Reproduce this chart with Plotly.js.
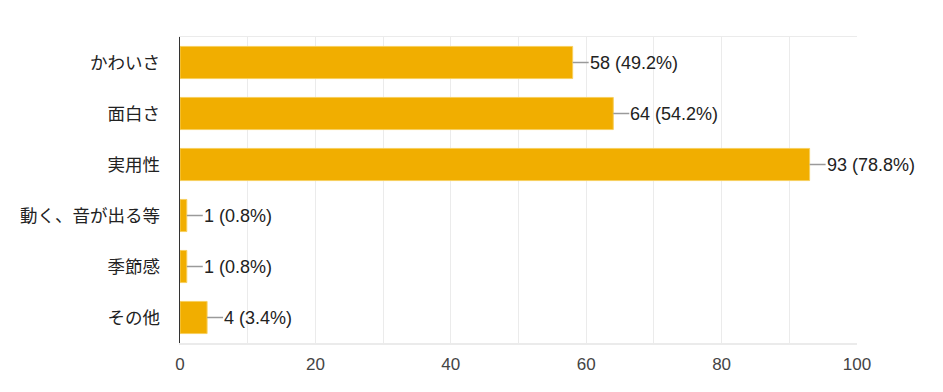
<!DOCTYPE html>
<html>
<head>
<meta charset="utf-8">
<script src="https://cdn.plot.ly/plotly-3.0.1.min.js"></script>
<style>html,body{margin:0;padding:0;background:#fff;}</style>
</head>
<body>
<div id="chart" style="width:943px;height:392px;"></div>
<script>
var categories = ["かわいさ", "面白さ", "実用性", "動く、音が出る等", "季節感", "その他"];
var counts = [58, 64, 93, 1, 1, 4];
var percents = ["49.2%", "54.2%", "78.8%", "0.8%", "0.8%", "3.4%"];
var xTicks = [0, 20, 40, 60, 80, 100];

var trace = {
  type: "bar",
  orientation: "h",
  y: categories,
  x: counts,
  marker: {color: "#F1AE00", line: {color: "#F7CF5E", width: 1}},
  hoverinfo: "none"
};

var annotations = categories.map(function (c, i) {
  return {
    x: counts[i], y: c, xref: "x", yref: "y",
    text: counts[i] + " (" + percents[i] + ")",
    showarrow: true, arrowhead: 0, arrowwidth: 1.5, arrowcolor: "#9a9a9a",
    ax: 16, ay: 0, axref: "pixel", ayref: "pixel",
    xanchor: "left", yanchor: "middle",
    borderpad: 0,
    font: {family: "Liberation Sans, Arial, sans-serif", size: 18, color: "#222"}
  };
});

var layout = {
  width: 943, height: 392,
  margin: {l: 180, r: 86, t: 37, b: 49},
  paper_bgcolor: "#fff", plot_bgcolor: "#fff",
  showlegend: false,
  bargap: 0.37,
  xaxis: {
    range: [0, 100], tickvals: xTicks, ticktext: xTicks.map(String),
    showgrid: true, gridcolor: "#ebebeb", gridwidth: 1,
    minor: {dtick: 10, showgrid: true, gridcolor: "#ebebeb", gridwidth: 1},
    showline: true, mirror: true, linecolor: "#ebebeb", linewidth: 1.5,
    zeroline: false, ticks: "", ticklabelstandoff: 5,
    tickfont: {family: "Liberation Sans, Arial, sans-serif", size: 17, color: "#444"},
    fixedrange: true
  },
  yaxis: {
    autorange: "reversed", showgrid: false, zeroline: false,
    showline: true, linecolor: "#333", linewidth: 1.5,
    ticks: "", ticklabelstandoff: 15,
    tickfont: {family: "Noto Sans CJK JP, sans-serif", size: 17.5, color: "#222"},
    fixedrange: true
  },
  annotations: annotations
};

Plotly.newPlot("chart", [trace], layout, {displayModeBar: false, staticPlot: true});
</script>
</body>
</html>
